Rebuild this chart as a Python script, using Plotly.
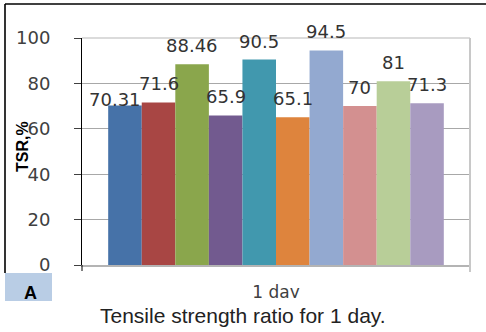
import plotly.graph_objects as go

# Tensile strength ratio (TSR, %) after 1 day for ten mixes
category = ["1 day"]
series_names = ["S1", "S2", "S3", "S4", "S5", "S6", "S7", "S8", "S9", "S10"]
tsr_values = [70.31, 71.6, 88.46, 65.9, 90.5, 65.1, 94.5, 70, 81, 71.3]
bar_colors = ["#4672A8", "#A84644", "#8AA64C", "#725A8F", "#4198AE",
              "#DE843D", "#93A9D0", "#D39090", "#B8CE98", "#A89BC0"]
y_ticks = [0, 20, 40, 60, 80, 100]

W, H = 486, 332
ML, MR, MT, MB = 82, 16, 38, 67
PW, PH = W - ML - MR, H - MT - MB
BARGAP = 0.135


def px_x(px):
    return (px - ML) / PW


def px_y(py):
    return (H - MB - py) / PH


fig = go.Figure()
for name, val, col in zip(series_names, tsr_values, bar_colors):
    fig.add_trace(go.Bar(x=category, y=[val], name=name,
                         marker=dict(color=col, line=dict(width=0))))

# value labels above each bar (bar centres in category units)
n = len(tsr_values)
bw = (1 - BARGAP) / n
label_dx = [-10] + [0] * (n - 1)
label_dy = [6] + [18.5] * (n - 1)
for i, val in enumerate(tsr_values):
    xc = -0.5 + BARGAP / 2 + (i + 0.5) * bw
    fig.add_annotation(x=xc, y=val, xref="x", yref="y", text=f"{val:g}",
                       showarrow=False, xanchor="center", yanchor="middle",
                       xshift=label_dx[i], yshift=label_dy[i],
                       font=dict(family="DejaVu Sans", size=18, color="#333333"))

shapes = [
    # plot-area border (top and right)
    dict(type="line", xref="paper", yref="paper", x0=0, x1=1, y0=1, y1=1,
         line=dict(color="#CFCFCF", width=1.5), layer="between"),
    dict(type="line", xref="paper", yref="paper", x0=1, x1=1, y0=1, y1=px_y(272),
         line=dict(color="#C8C8C8", width=2)),
    # category-axis boundary tick at the left
    dict(type="line", xref="paper", yref="paper", x0=0, x1=0, y0=0, y1=px_y(271),
         line=dict(color="#000000", width=1)),
    # outer frame
    dict(type="line", xref="paper", yref="paper", x0=px_x(5), x1=px_x(486),
         y0=px_y(4), y1=px_y(4), line=dict(color="#000000", width=1.6)),
    dict(type="line", xref="paper", yref="paper", x0=px_x(5), x1=px_x(5),
         y0=px_y(4), y1=px_y(273), line=dict(color="#000000", width=1.6)),
    # panel tag box
    dict(type="rect", xref="paper", yref="paper", x0=px_x(5), x1=px_x(52),
         y0=px_y(273), y1=px_y(301), fillcolor="#B9CDE5", line=dict(width=0)),
    # caption strip
    dict(type="rect", xref="paper", yref="paper", x0=px_x(60), x1=px_x(486),
         y0=px_y(298), y1=px_y(332), fillcolor="#FFFFFF", line=dict(width=0),
         layer="above"),
]

annotations = [
    dict(text="<b>A</b>", x=px_x(30), y=px_y(293), xref="paper", yref="paper",
         showarrow=False, xanchor="center", yanchor="middle",
         font=dict(family="Liberation Sans", size=18, color="#000000")),
    dict(text="<b>TSR,%</b>", x=px_x(22), y=px_y(147), xref="paper", yref="paper",
         showarrow=False, textangle=-90, xanchor="center", yanchor="middle",
         font=dict(family="Liberation Sans", size=16, color="#000000")),
    dict(text="Tensile strength ratio for 1 day.", x=px_x(243), y=px_y(315),
         xref="paper", yref="paper", showarrow=False, xanchor="center",
         yanchor="middle",
         font=dict(family="Liberation Sans", size=21, color="#222222")),
]
for a in annotations:
    fig.add_annotation(**a)

fig.update_layout(
    width=W, height=H,
    margin=dict(l=ML, r=MR, t=MT, b=MB),
    barmode="group", bargap=BARGAP, bargroupgap=0,
    showlegend=False,
    paper_bgcolor="#FFFFFF", plot_bgcolor="#FFFFFF",
    shapes=shapes,
    xaxis=dict(type="category", showgrid=False, zeroline=False,
               showline=True, linecolor="#B4B4B4", linewidth=2,
               ticks="", ticklabelstandoff=11,
               tickfont=dict(family="DejaVu Sans", size=17, color="#404040")),
    yaxis=dict(range=[0, 100], tickvals=y_ticks, showgrid=True,
               gridcolor="#A8A8A8", gridwidth=1, zeroline=False,
               showline=True, linecolor="#000000", linewidth=1,
               ticks="outside", ticklen=7, tickcolor="#404040",
               ticklabelstandoff=20,
               tickfont=dict(family="DejaVu Sans", size=18, color="#404040")),
)

fig.write_html("out.html")
